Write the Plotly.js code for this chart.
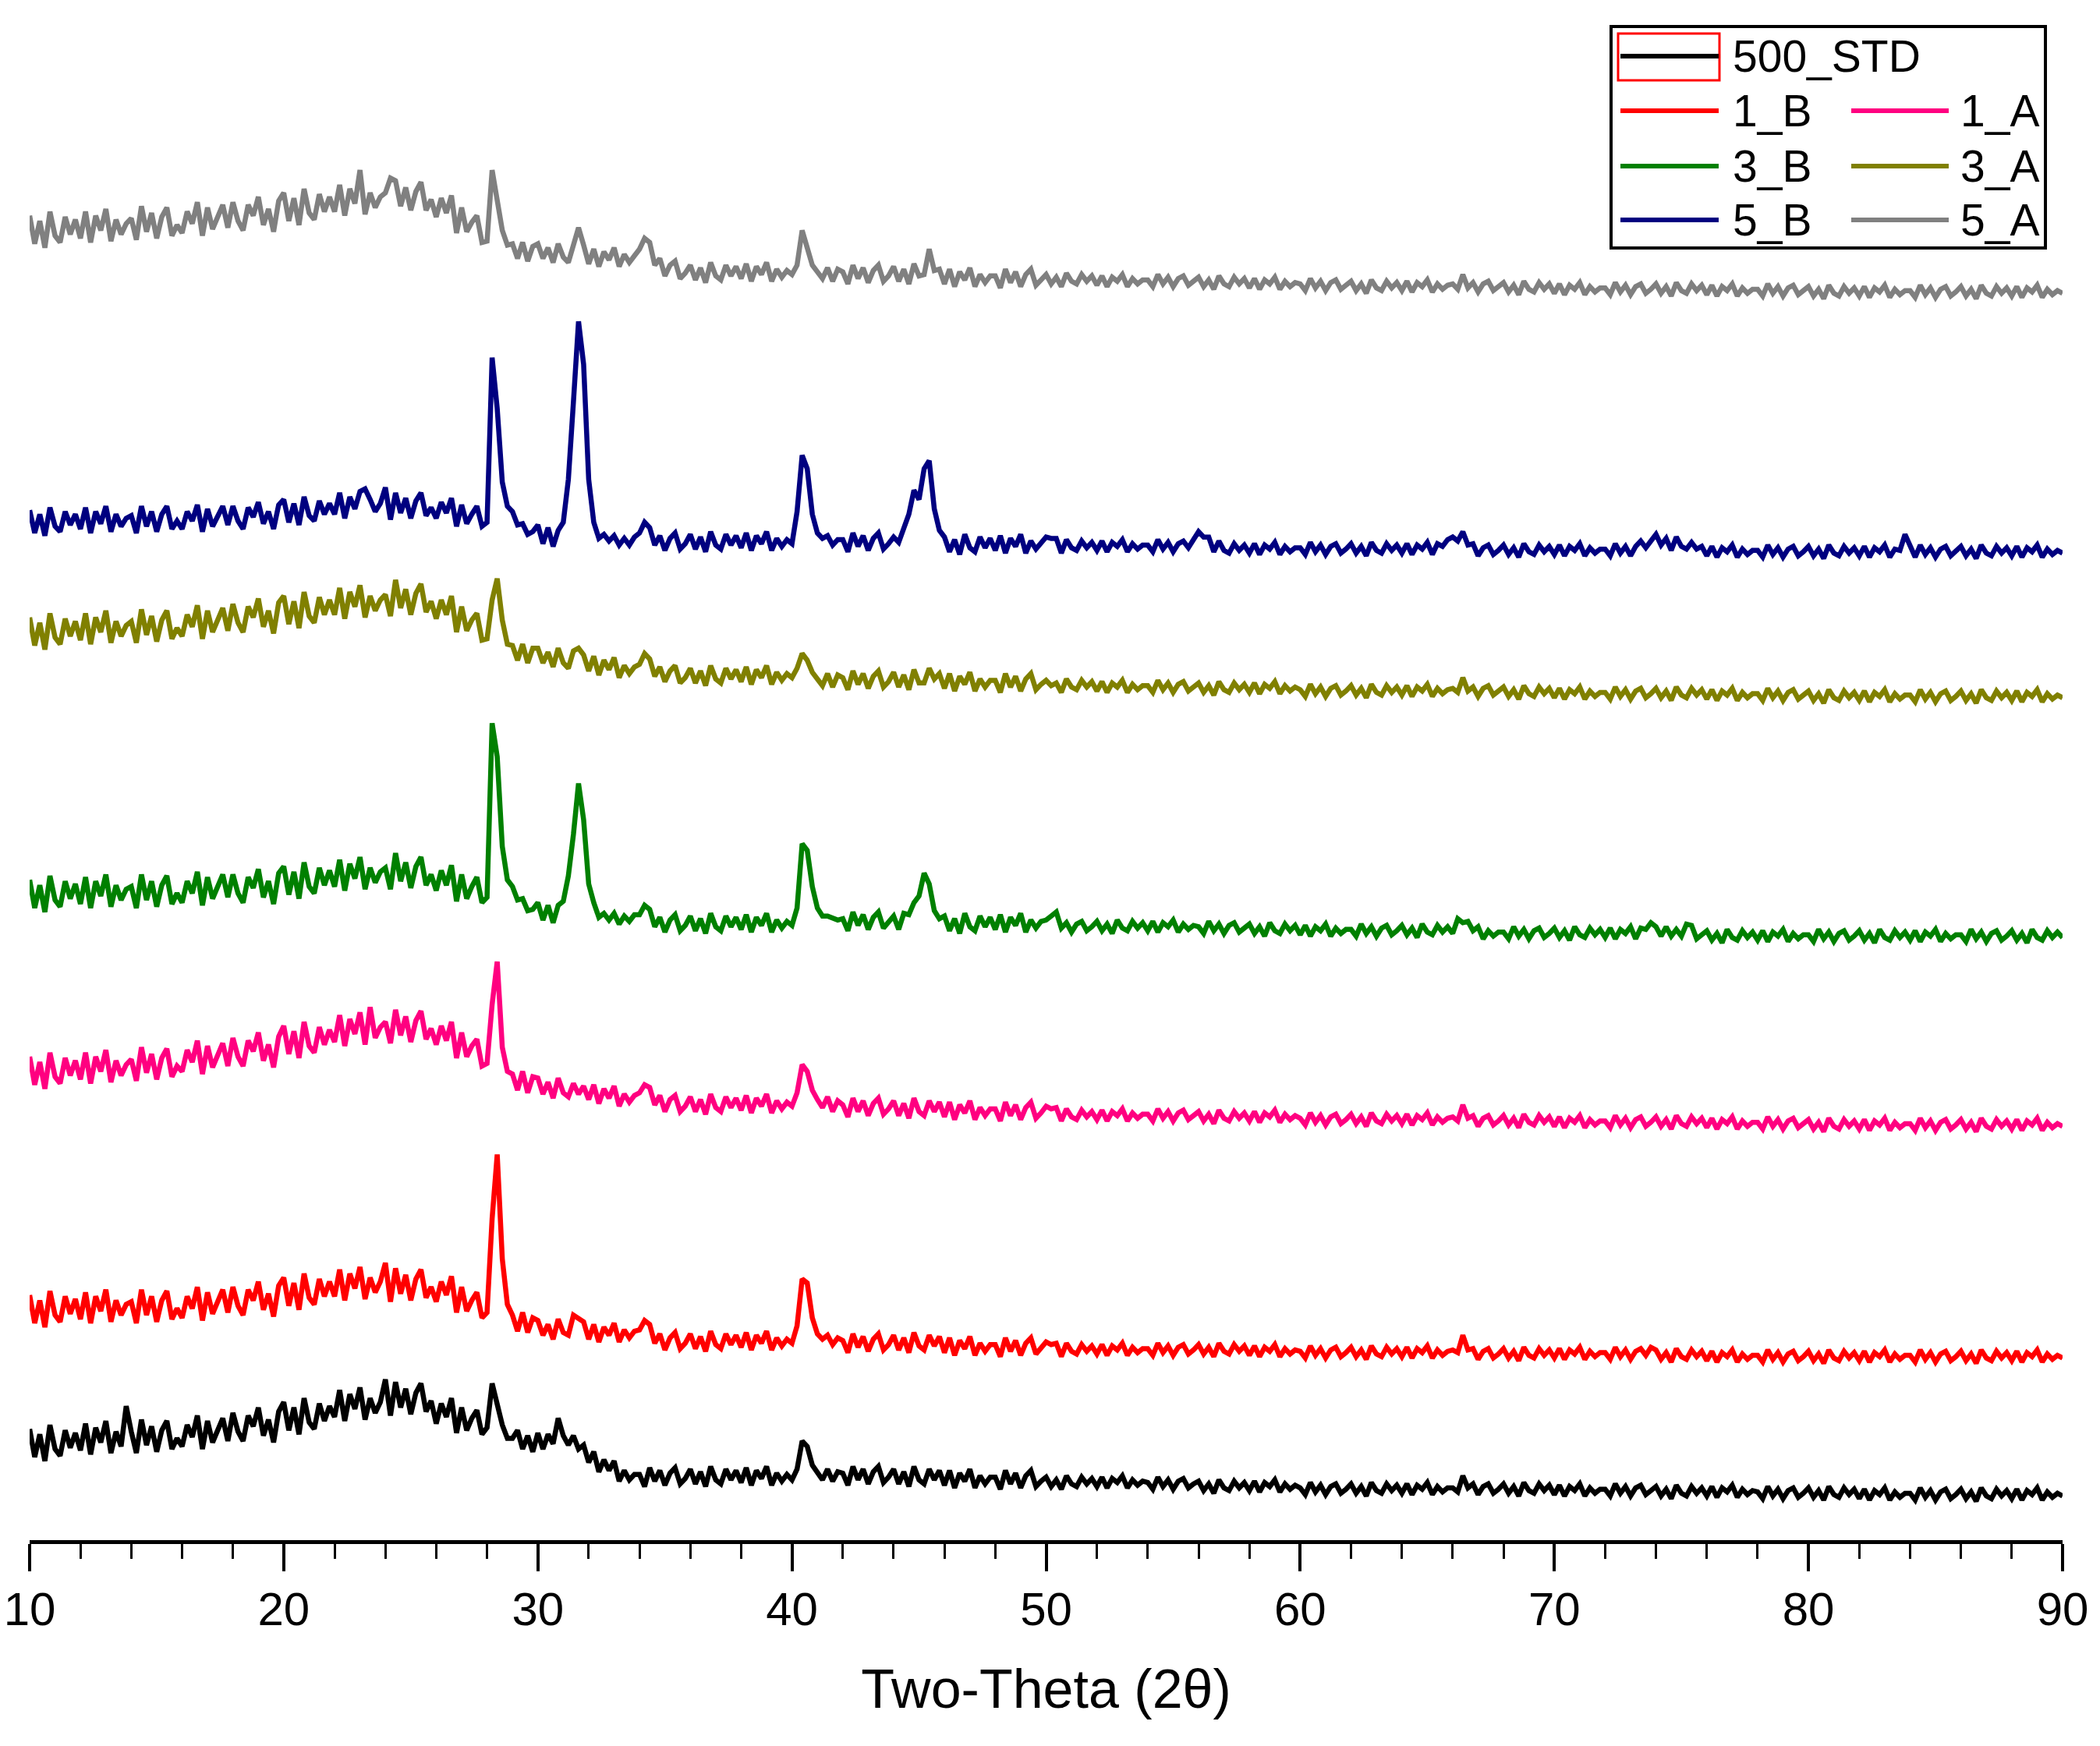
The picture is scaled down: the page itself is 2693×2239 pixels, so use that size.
<!DOCTYPE html>
<html><head><meta charset="utf-8">
<script src="https://cdn.plot.ly/plotly-3.0.1.min.js"></script>
<style>html,body{margin:0;padding:0;background:#fff}</style>
</head><body><div id="chart" style="width:2693px;height:2239px"></div>
<script>
// 2θ grid of the scan: 10° to 90°, 0.2° step (401 points)
const thetaStart = 10, thetaStep = 0.2, nPoints = 401;
const twoTheta = Array.from({length: nPoints}, (_, i) => Math.round((thetaStart + i * thetaStep) * 10) / 10);

const seriesNames  = ['500_STD', '1_B', '1_A', '3_B', '3_A', '5_B', '5_A'];
const seriesColors = ['#000000', '#ff0000', '#ff0080', '#008000', '#808000', '#000080', '#808080'];

// Intensities (offset-stacked, arbitrary units), one row = 2°
const std500 = [
83,62,79,59,86,68,63,82,69,80, 67,87,64,84,73,89,65,81,70,100, 81,65,90,71,85,66,82,89,68,76, 70,86,77,93,68,89,73,83,91,74,
95,81,74,93,85,99,78,90,73,96, 103,82,99,79,106,88,83,102,89,100, 92,112,89,109,98,114,90,106,95,103, 120,93,118,99,113,94,110,117,96,104,
87,102,92,106,80,99,82,91,97,79, 84,117,100,86,76,76,82,68,78,66, 80,68,79,72,91,78,71,78,68,71, 58,66,51,60,52,59,44,52,45,49,
49,40,54,44,52,41,50,54,42,46, 53,42,51,40,55,45,42,53,45,52, 43,54,41,52,46,55,41,50,44,49, 45,53,74,70,56,50,45,53,44,51,
50,41,55,45,53,42,51,55,43,47, 53,42,51,40,55,45,42,53,45,52, 41,52,39,50,44,53,39,48,42,47, 47,38,52,42,50,39,48,52,40,44,
47,40,45,38,48,42,40,47,42,46, 40,47,39,46,43,48,39,45,41,44, 43,38,47,40,45,38,44,46,39,42, 44,37,42,35,45,39,37,44,39,43,
37,44,36,43,40,45,36,42,38,41, 39,34,43,36,41,34,40,42,35,38, 42,35,40,33,43,37,35,42,37,41, 35,42,34,41,38,43,34,40,36,39,
39,36,48,39,42,34,40,42,35,38, 42,35,40,33,43,37,35,42,37,41, 34,41,33,40,37,42,33,39,35,38, 38,33,42,35,40,33,39,41,34,37,
40,33,38,31,41,35,33,40,35,39, 33,40,32,39,36,41,32,38,34,37, 36,31,40,33,38,31,37,39,32,35, 39,32,37,30,40,34,32,39,34,38,
31,38,30,37,34,39,30,36,32,35, 35,30,39,32,37,30,36,38,31,34, 38,31,36,29,39,33,31,38,33,37, 31,38,30,37,34,39,30,36,32,35,
33];

const b1 = [
183,162,179,159,186,168,163,182,169,180, 165,185,162,182,171,187,163,179,168,176, 178,162,187,168,182,163,179,186,165,173, 166,182,173,189,164,185,169,179,187,170,
189,175,168,187,179,193,172,184,167,190, 196,175,192,172,199,181,176,195,182,193, 182,202,179,199,188,204,180,196,185,193, 207,178,203,184,198,179,195,202,181,189,
178,193,183,197,170,189,171,179,185,166, 170,240,288,210,176,168,156,170,155,166, 164,153,161,150,165,155,153,168,166,163, 150,161,148,159,153,162,148,157,151,156,
157,164,161,147,154,142,151,155,143,147, 154,143,152,141,156,146,143,154,146,153, 144,155,142,153,147,156,142,151,145,150, 147,160,195,192,166,154,150,153,146,151,
149,140,154,144,152,141,150,154,142,146, 153,142,151,140,155,145,142,153,145,152, 140,151,138,149,143,152,138,147,141,146, 146,137,151,141,149,138,147,151,139,143,
148,146,147,137,147,141,139,146,141,145, 139,146,138,145,142,147,138,144,140,143, 143,138,147,140,145,138,144,146,139,142, 146,139,144,137,147,141,139,146,141,145,
138,145,137,144,141,146,137,143,139,142, 141,136,145,138,143,136,142,144,137,140, 144,137,142,135,145,139,137,144,139,143, 137,144,136,143,140,145,136,142,138,141,
142,140,153,142,143,135,141,143,136,139, 143,136,141,134,144,138,136,143,138,142, 136,143,135,142,139,144,135,141,137,140, 140,135,144,137,142,135,141,143,138,144,
142,135,140,133,143,137,135,142,137,141, 134,141,133,140,137,142,133,139,135,138, 138,133,142,135,140,133,139,141,134,137, 141,134,139,132,142,136,134,141,136,140,
134,141,133,140,137,142,133,139,135,138, 138,133,142,135,140,133,139,141,134,137, 141,134,139,132,142,136,134,141,136,140, 134,141,133,140,137,142,133,139,135,138,
136];

const a1 = [
361,340,357,337,364,346,341,360,347,358, 344,364,341,361,350,366,342,358,347,355, 359,343,368,349,363,344,360,367,346,354, 350,366,357,373,348,369,353,363,371,354,
375,361,354,373,365,379,358,370,353,376, 384,363,380,360,387,369,364,383,370,381, 372,392,369,389,378,394,370,398,375,383, 387,371,396,377,391,372,388,395,374,382,
370,384,373,387,360,379,361,369,374,354, 356,400,432,368,350,348,336,350,334,346, 345,333,342,330,345,334,331,341,333,339, 329,340,326,337,330,339,324,333,327,332,
334,340,338,325,332,320,329,332,320,324, 331,320,329,318,333,323,320,331,323,330, 321,332,319,330,324,333,319,328,322,327, 324,334,355,350,336,329,323,331,320,328,
325,316,330,320,328,317,326,330,318,322, 328,317,326,315,330,320,317,328,320,327, 316,327,314,325,319,328,314,323,317,322, 322,313,327,317,325,314,323,327,315,319,
324,322,323,313,322,316,314,321,316,320, 314,321,313,320,317,322,313,319,315,318, 318,313,322,315,320,313,319,321,314,317, 320,313,318,311,321,315,313,320,315,319,
313,320,312,319,316,321,312,318,314,317, 315,310,319,312,317,310,316,318,311,314, 318,311,316,309,319,313,311,318,313,317, 311,318,310,317,314,319,310,316,312,315,
316,313,325,315,317,309,315,317,310,313, 317,310,315,308,318,312,310,317,312,316, 309,316,308,315,312,317,308,314,310,313, 313,308,317,310,315,308,314,316,309,312,
316,309,314,307,317,311,309,316,311,315, 308,315,307,314,311,316,307,313,309,312, 312,307,316,309,314,307,313,315,308,311, 314,307,312,305,315,309,307,314,309,313,
307,314,306,313,310,315,306,312,308,311, 311,306,315,308,313,306,312,314,307,310, 314,307,312,305,315,309,307,314,309,313, 307,314,306,313,310,315,306,312,308,311,
309];

const b3 = [
493,472,489,469,496,478,473,492,479,490, 475,495,472,492,481,497,473,489,478,486, 488,472,497,478,492,473,489,496,475,483, 476,492,483,499,474,495,479,489,497,480,
497,483,476,495,487,501,480,492,475,498, 503,482,499,479,506,488,483,502,489,500, 488,508,485,505,494,510,486,502,491,499, 502,486,513,492,506,487,503,510,489,497,
485,500,489,504,477,497,479,488,495,476, 480,610,585,518,493,488,478,479,470,471, 476,463,474,461,474,477,496,527,565,538, 490,476,465,468,463,468,460,466,462,467,
467,474,471,458,465,454,463,467,455,459, 466,455,464,453,468,458,455,466,458,465, 456,467,454,465,459,468,454,463,457,462, 459,472,520,515,488,472,466,466,464,463,
464,455,469,459,467,456,465,469,457,461, 466,456,468,467,476,481,498,490,470,464, 466,455,464,453,468,458,455,466,458,465, 456,467,454,465,459,468,454,463,457,462,
463,466,469,457,461,454,460,462,455,458, 462,455,460,453,463,457,455,462,457,461, 455,462,454,461,458,463,454,460,456,459, 458,453,462,455,460,453,459,461,454,457,
460,453,458,451,461,455,453,460,455,459, 452,459,451,458,455,460,451,457,453,456, 456,451,460,453,458,451,457,459,452,455, 459,452,457,450,460,454,452,459,454,458,
453,464,461,462,455,458,449,455,451,454, 454,449,458,451,456,449,455,457,450,453, 457,450,455,448,458,452,450,457,452,456, 450,457,449,456,453,458,449,457,456,461,
458,451,458,451,456,451,460,459,449,452, 455,448,453,446,456,450,448,455,450,454, 448,455,447,454,451,456,447,453,449,452, 452,447,456,449,454,447,453,455,448,451,
455,448,453,446,456,450,448,455,450,454, 448,455,447,454,451,456,447,453,449,452, 452,447,456,449,454,447,453,455,448,451, 455,448,453,446,456,450,448,455,450,454,
450];

const a3 = [
689,668,685,665,692,674,669,688,675,686, 672,692,669,689,678,694,670,686,675,683, 686,670,695,676,690,671,687,694,673,681, 675,691,682,698,673,694,678,688,696,679,
699,685,678,697,689,703,682,694,677,700, 705,684,701,681,708,690,685,704,691,702, 691,711,688,708,697,713,689,705,694,702, 706,690,717,696,710,691,707,714,693,701,
688,702,691,705,678,697,679,687,692,672, 673,702,718,687,669,668,657,669,655,666, 666,655,663,652,666,655,651,664,666,661, 649,660,646,657,650,659,644,653,647,652,
654,662,658,645,652,641,649,653,640,644, 651,640,649,638,653,643,640,651,643,650, 641,652,639,650,644,653,639,648,642,647, 644,651,662,657,648,643,638,647,637,646,
644,635,649,639,647,636,645,649,637,641, 648,637,646,635,650,640,640,651,643,647, 636,647,634,645,639,648,634,643,637,642, 642,633,647,637,645,634,643,647,635,639,
642,638,640,633,643,637,635,642,637,641, 634,641,633,640,637,642,633,639,635,638, 638,633,642,635,640,633,639,641,634,637, 640,633,638,631,641,635,633,640,635,639,
633,640,632,639,636,641,632,638,634,637, 635,630,639,632,637,630,636,638,631,634, 638,631,636,629,639,633,631,638,633,637, 631,638,630,637,634,639,630,636,632,635,
636,633,644,634,637,630,636,638,631,634, 637,630,635,628,638,632,630,637,632,636, 629,636,628,635,632,637,628,634,630,633, 633,628,637,630,635,628,634,636,629,632,
636,629,634,627,637,631,629,636,631,635, 628,635,627,634,631,636,627,633,629,632, 632,627,636,629,634,627,633,635,628,631, 634,627,632,625,635,629,627,634,629,633,
627,634,626,633,630,635,626,632,628,631, 631,626,635,628,633,626,632,634,627,630, 634,627,632,625,635,629,627,634,629,633, 627,634,626,633,630,635,626,632,628,631,
629];

const b5 = [
769,752,766,750,771,757,753,768,758,766, 755,771,752,768,759,772,753,766,757,763, 765,752,772,757,768,753,766,772,755,761, 755,768,761,773,753,770,757,765,772,758,
772,761,755,771,764,775,759,768,755,773, 777,760,774,758,779,765,761,776,766,774, 766,782,763,779,770,783,785,777,768,774, 786,762,782,767,778,763,776,782,765,771,
763,775,767,778,757,773,759,766,772,757, 760,883,845,790,772,768,758,759,751,753, 758,744,756,742,754,760,792,850,910,878, 792,760,748,751,746,750,743,748,743,749,
752,760,756,743,750,739,748,752,740,744, 751,740,749,738,753,743,740,751,743,750, 741,752,739,750,744,753,739,748,742,747, 744,768,810,800,766,752,748,750,743,747,
747,738,752,742,750,739,748,752,740,744, 749,745,757,766,784,777,800,806,770,754, 749,738,747,736,751,741,738,749,741,748, 739,750,737,748,742,751,737,746,740,745,
749,748,748,737,747,741,739,746,741,745, 739,746,738,745,742,747,738,744,740,743, 743,738,747,740,745,738,744,746,741,747, 753,749,749,738,746,739,737,744,739,743,
737,744,736,743,740,745,736,742,738,741, 741,736,745,738,743,736,742,744,737,740, 744,737,742,735,745,739,737,744,739,743, 737,744,736,743,740,745,736,744,742,747,
749,746,753,743,744,735,741,743,736,739, 743,736,741,734,744,738,736,743,738,742, 736,743,735,742,739,744,735,741,737,740, 740,735,744,737,742,735,742,746,741,746,
751,743,748,739,749,742,740,745,740,742, 735,742,734,741,738,743,734,740,736,739, 739,734,743,736,741,734,740,742,735,738, 742,735,740,733,743,737,735,742,737,741,
735,742,734,741,738,743,734,740,739,751, 743,734,743,736,741,734,740,742,735,738, 742,735,740,733,743,737,735,742,737,741, 735,742,734,741,738,743,734,740,736,739,
737];

const a5 = [
989,968,985,965,992,974,969,988,975,986, 972,992,969,989,978,994,970,986,975,983, 987,971,996,977,991,972,988,995,974,982, 976,992,983,999,974,995,979,989,997,980,
999,985,978,997,989,1003,982,994,977,1000, 1006,985,1002,982,1009,991,986,1005,992,1003, 992,1012,989,1009,998,1023,990,1006,995,1003, 1006,1017,1015,996,1010,993,1007,1014,993,1001,
988,1002,991,1004,976,995,977,984,989,969, 970,1023,1000,978,967,968,957,969,955,966, 968,957,965,954,968,958,954,968,980,967, 953,964,951,962,956,965,951,960,954,959,
964,972,969,952,957,944,952,955,942,946, 952,941,950,939,954,944,941,952,944,951, 942,953,940,951,945,954,940,949,943,948, 945,952,978,965,952,947,942,950,940,949,
947,938,952,942,950,939,948,952,940,944, 951,940,949,938,953,944,945,964,948,949, 938,949,936,947,941,950,936,945,939,944, 944,935,949,939,947,936,945,949,937,941,
945,938,943,936,946,940,938,945,940,944, 937,944,936,943,940,945,936,942,938,941, 941,936,945,938,943,936,942,944,937,940, 943,936,941,934,944,938,936,943,938,942,
935,942,934,941,938,943,934,940,936,939, 938,933,942,935,940,933,939,941,934,937, 940,933,938,931,941,935,933,940,935,939, 933,940,932,939,936,941,932,938,934,937,
938,934,945,935,939,932,938,940,933,936, 939,932,937,930,940,934,932,939,934,938, 931,938,930,937,934,939,930,936,932,935, 935,930,939,932,937,930,936,938,931,934,
938,931,936,929,939,933,931,938,933,937, 930,937,929,936,933,938,929,935,931,934, 934,929,938,931,936,929,935,937,930,933, 936,929,934,927,937,931,929,936,931,935,
929,936,928,935,932,937,928,934,930,933, 933,928,937,930,935,928,934,936,929,932, 936,929,934,927,937,931,929,936,931,935, 929,936,928,935,932,937,928,934,930,933,
931];

const seriesValues = [std500, b1, a1, b3, a3, b5, a5];
seriesValues.forEach((s, i) => { if (s.length !== nPoints) console.error(seriesNames[i] + ' has ' + s.length); });

const xTitle = 'Two-Theta (2θ)';
const FONT = '"Liberation Sans", Arial, sans-serif';

const traces = seriesValues.map((vals, i) => ({
  type: 'scatter', mode: 'lines', name: seriesNames[i],
  x: twoTheta, y: vals,
  line: {color: seriesColors[i], width: 6.5},
  showlegend: false
}));

// manual legend (Origin style) in figure pixel positions -> paper coords
const W = 2693, H = 2239, ML = 38, MR = 48, MT = 0, MB = 264;
const PW = W - ML - MR, PH = H - MT - MB;
const PX = px => (px - ML) / PW;
const PY = py => (PH + MT - py) / PH;

const legendSlots = [[0,0],[1,0],[1,1],[2,0],[2,1],[3,0],[3,1]];
const rowY = [72, 142, 213, 282];
const colLine = [[2078, 2204], [2374, 2499]];
const colText = [2220, 2512];

const shapes = [
  {type:'rect', xref:'paper', yref:'paper', x0:PX(2066), x1:PX(2623), y0:PY(318), y1:PY(34),
   line:{color:'#000', width:4}, fillcolor:'rgba(0,0,0,0)'},
  {type:'rect', xref:'paper', yref:'paper', x0:PX(2075), x1:PX(2205), y0:PY(103), y1:PY(43),
   line:{color:'#ff0000', width:3}, fillcolor:'rgba(0,0,0,0)'}
];
const annotations = [];
legendSlots.forEach(([r, c], i) => {
  shapes.push({type:'line', xref:'paper', yref:'paper',
    x0:PX(colLine[c][0]), x1:PX(colLine[c][1]), y0:PY(rowY[r]), y1:PY(rowY[r]),
    line:{color:seriesColors[i], width:6}});
  annotations.push({xref:'paper', yref:'paper', x:PX(colText[c]), y:PY(rowY[r]),
    xanchor:'left', yanchor:'middle', showarrow:false, text:seriesNames[i],
    font:{family:FONT, size:57, color:'#000'}});
});

const layout = {
  width: W, height: H,
  margin: {l: ML, r: MR, t: MT, b: MB},
  paper_bgcolor: '#fff', plot_bgcolor: '#fff',
  showlegend: false,
  xaxis: {
    range: [10, 90], tick0: 10, dtick: 10,
    showline: true, linewidth: 5, linecolor: '#000',
    ticks: 'outside', ticklen: 35, tickwidth: 4, tickcolor: '#000',
    minor: {dtick: 2, ticks: 'outside', ticklen: 19, tickwidth: 3, tickcolor: '#000', showgrid: false},
    showgrid: false, zeroline: false,
    ticklabelstandoff: -3,
    tickfont: {family: FONT, size: 60, color: '#000'},
    title: {text: xTitle, font: {family: FONT, size: 70, color: '#000'}, standoff: 46}
  },
  yaxis: {visible: false, range: [0, 1150], fixedrange: true},
  shapes: shapes,
  annotations: annotations
};

Plotly.newPlot('chart', traces, layout, {displayModeBar: false, staticPlot: true});
</script>
</body></html>
